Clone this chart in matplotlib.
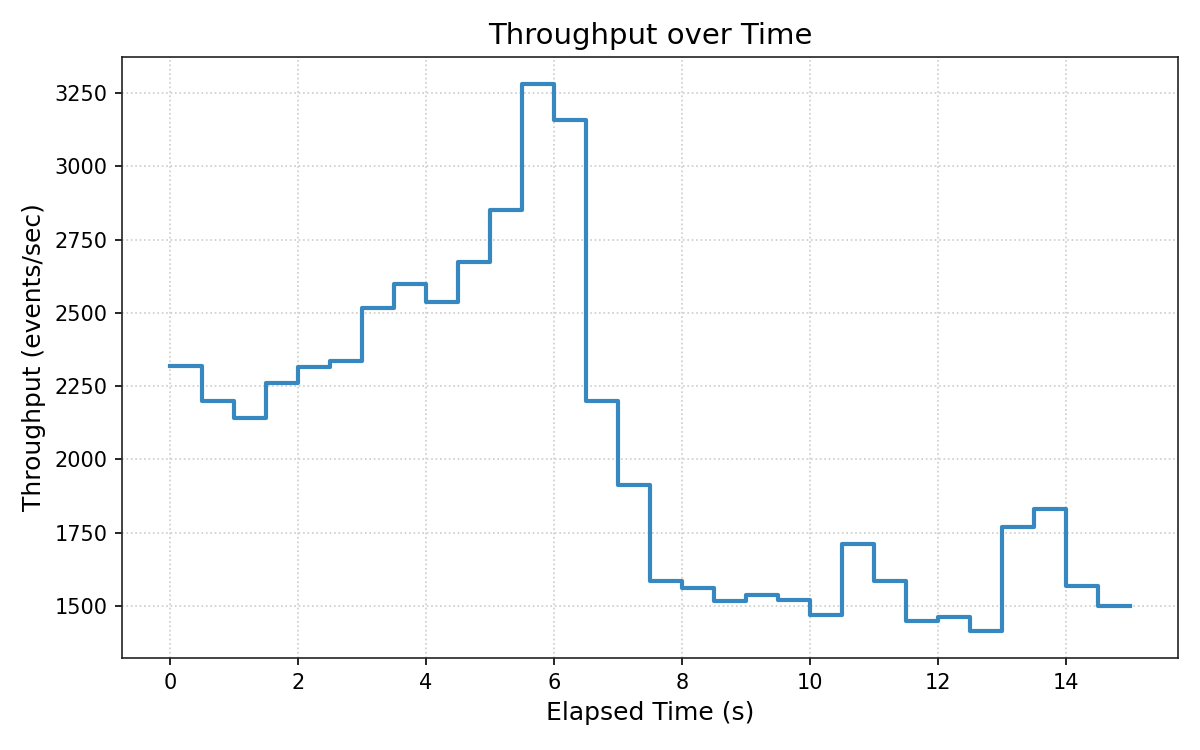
import numpy as np
import matplotlib
matplotlib.use("Agg")
import matplotlib.pyplot as plt

# %% data: throughput samples every 0.5 s
elapsed = np.arange(0, 15.5, 0.5)
throughput = [2318, 2198, 2140, 2260, 2315, 2335, 2516, 2598, 2537, 2673,
              2851, 3280, 3158, 2198, 1914, 1584, 1562, 1518, 1538, 1521,
              1468, 1713, 1584, 1450, 1463, 1416, 1770, 1832, 1569, 1500,
              1500]

# %% plot
fig, ax = plt.subplots(figsize=(8, 5), dpi=150)
ax.step(elapsed, throughput, where="post", color="#3787c0", linewidth=2.0)
ax.set_title("Throughput over Time", fontsize=14)
ax.set_xlabel("Elapsed Time (s)", fontsize=12)
ax.set_ylabel("Throughput (events/sec)", fontsize=12)
ax.tick_params(labelsize=10)
ax.grid(True, linestyle=":", color="#cccccc", linewidth=0.8)
for sp in ax.spines.values():
    sp.set_color("#222222")
fig.subplots_adjust(left=0.1017, right=0.9817, top=0.924, bottom=0.1227)
plt.savefig("out.png")
plt.close()
